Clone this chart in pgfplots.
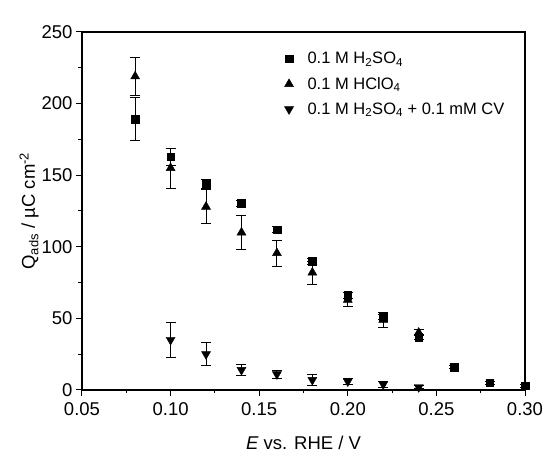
\documentclass[border=0pt]{standalone}
\usepackage{fontspec}
\setmainfont{Liberation Sans}
\usepackage{pgfplots}
\usepackage{pgfplotstable}
\pgfplotsset{compat=1.18}

% Adsorbed charge vs. potential: E, Q, error
\pgfplotstableread{
E     Q    err
0.08  189  15
0.10  163  6
0.12  144  3
0.14  130.5 2
0.16  112  2
0.18  90   2
0.20  66   2
0.22  51   2
0.24  37   2
0.26  16   1
0.28  5    1
0.30  3    1
}\sulfuric
\pgfplotstableread{
E     Q    err
0.08  219  13
0.10  155  14
0.12  128  12
0.14  110  12
0.16  95.6 9
0.18  82   8
0.20  63   5
0.22  49   5
0.24  40   2
}\perchloric
\pgfplotstableread{
E     Q    err
0.10  35   12
0.12  25   8
0.14  14   4
0.16  11   3
0.18  7    4
0.20  6    2
0.22  4    2
0.24  2    1
}\withcv

\begin{document}
\begin{tikzpicture}
\begin{axis}[
  scale only axis, width=443pt, height=358pt,
  xmin=0.05, xmax=0.30, ymin=0, ymax=250,
  xtick={0.05,0.10,0.15,0.20,0.25,0.30},
  ytick={0,50,100,150,200,250},
  minor x tick num=1, minor y tick num=1,
  xticklabel style={yshift=-3pt, /pgf/number format/.cd, fixed, fixed zerofill, precision=2},
  /pgf/number format/assume math mode=true,
  ticklabel style={font=\fontsize{18.5}{20}\selectfont},
  label style={font=\fontsize{18.5}{20}\selectfont},
  xlabel style={yshift=-14pt},
  ylabel style={yshift=-4pt},
  tick align=outside, xtick pos=bottom, ytick pos=left,
  major tick length=6pt, minor tick length=3.5pt,
  axis line style={line width=1.2pt},
  tick style={line width=1pt, black},
  xlabel={\textit{E} vs. RHE / V},
  ylabel={Q\textsubscript{ads} / µC cm\textsuperscript{-2}},
  legend style={draw=none, fill=none, at={(0.45,0.955)}, anchor=north west,
    font=\fontsize{16.5}{18}\selectfont, row sep=8pt,
    /tikz/every odd column/.append style={column sep=12pt}},
  legend cell align=left,
  error bars/error bar style={line width=0.9pt, black},
  error bars/error mark options={mark size=5pt, line width=0.9pt, black, rotate=90},
]
\addplot[only marks, mark=square*, mark size=3.8pt, black,
  error bars/.cd, y dir=both, y explicit]
  table[x=E, y=Q, y error=err]{\sulfuric};
\addlegendentry{0.1 M H\textsubscript{2}SO\textsubscript{4}}
\addplot[only marks, mark=triangle*, mark size=5.2pt, black,
  error bars/.cd, y dir=both, y explicit]
  table[x=E, y=Q, y error=err]{\perchloric};
\addlegendentry{0.1 M HClO\textsubscript{4}}
\addplot[only marks, mark=triangle*, mark size=5.2pt, black, mark options={rotate=180},
  error bars/.cd, y dir=both, y explicit]
  table[x=E, y=Q, y error=err]{\withcv};
\addlegendentry{0.1 M H\textsubscript{2}SO\textsubscript{4} + 0.1 mM CV}
\end{axis}
\path[use as bounding box] (current axis.south west) ++(-82pt,-75pt) rectangle ++(551pt,465pt);
\end{tikzpicture}
\end{document}
